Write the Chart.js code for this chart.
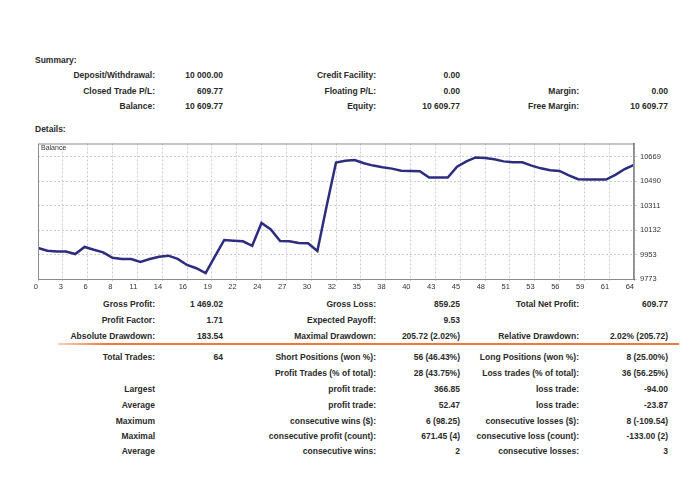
<!DOCTYPE html>
<html>
<head>
<meta charset="utf-8">
<script src="https://cdn.jsdelivr.net/npm/chart.js@4.4.1/dist/chart.umd.min.js"></script>
<style>
  body { margin: 0; background: #fff; width: 700px; height: 500px; position: relative; overflow: hidden;
         font-family: "Liberation Sans", Arial, sans-serif; color: #2a2a2a; }
  .t { position: absolute; font-size: 8.5px; font-weight: bold; white-space: nowrap; line-height: 12px; }
  #chartBox { position: absolute; left: 30px; top: 136px; width: 650px; height: 162px; }
  #balanceTag { position: absolute; left: 41px; top: 143px; font-size: 7px; line-height: 9px; color: #333; z-index: 2; }
  #rule { position: absolute; left: 58px; top: 343px; width: 621px; height: 2px;
          background: linear-gradient(to right, rgba(236,120,60,0.35), #ec7a3c 8%, #ec7a3c); }
</style>
</head>
<body>
<div class="t" style="left:35px;top:54px">Summary:</div>
<div class="t" style="left:35px;top:123px">Details:</div>
<div id="balanceTag">Balance</div>
<div id="chartBox"><canvas id="balanceChart"></canvas></div>
<div id="rule"></div>

<script>
// ==================== DATA ====================

// balance after each closed trade (trade 0 = initial deposit)
const balance = [
  10000, 9980, 9975, 9975, 9956, 10008, 9987, 9968, 9929, 9920,
  9920, 9898, 9920, 9936, 9944, 9920, 9876, 9852, 9816.46, 9939,
  10059, 10054, 10049, 10016, 10184, 10136, 10052, 10049, 10037, 10035,
  9978, 10310, 10626, 10640, 10645, 10621, 10604, 10592, 10582, 10567,
  10565, 10562, 10516, 10516, 10516, 10596, 10635, 10664, 10659, 10650,
  10635, 10628, 10628, 10604, 10584, 10570, 10565, 10533, 10504, 10502,
  10502, 10502, 10536, 10579, 10609.77
];
const tradeNumbers = balance.map((_, i) => i);

const xTickLabels = ['0', '3', '6', '8', '11', '14', '16', '19', '22', '24', '27', '30', '32',
                     '35', '38', '40', '43', '45', '48', '51', '53', '56', '59', '61', '64'];
const yTicks = [9773, 9953, 10132, 10311, 10490, 10669];
const yMin = 9773;
const yMax = 10766;
const xMax = 64;

// report tables: [label, value, label, value, label, value]
const summaryRows = [
  ['Deposit/Withdrawal:', '10 000.00', 'Credit Facility:', '0.00', '', ''],
  ['Closed Trade P/L:', '609.77', 'Floating P/L:', '0.00', 'Margin:', '0.00'],
  ['Balance:', '10 609.77', 'Equity:', '10 609.77', 'Free Margin:', '10 609.77']
];
const summaryY = [75, 91, 106];

const detailRows = [
  ['Gross Profit:', '1 469.02', 'Gross Loss:', '859.25', 'Total Net Profit:', '609.77'],
  ['Profit Factor:', '1.71', 'Expected Payoff:', '9.53', '', ''],
  ['Absolute Drawdown:', '183.54', 'Maximal Drawdown:', '205.72 (2.02%)', 'Relative Drawdown:', '2.02% (205.72)'],
  ['Total Trades:', '64', 'Short Positions (won %):', '56 (46.43%)', 'Long Positions (won %):', '8 (25.00%)'],
  ['', '', 'Profit Trades (% of total):', '28 (43.75%)', 'Loss trades (% of total):', '36 (56.25%)'],
  ['Largest', '', 'profit trade:', '366.85', 'loss trade:', '-94.00'],
  ['Average', '', 'profit trade:', '52.47', 'loss trade:', '-23.87'],
  ['Maximum', '', 'consecutive wins ($):', '6 (98.25)', 'consecutive losses ($):', '8 (-109.54)'],
  ['Maximal', '', 'consecutive profit (count):', '671.45 (4)', 'consecutive loss (count):', '-133.00 (2)'],
  ['Average', '', 'consecutive wins:', '2', 'consecutive losses:', '3']
];
const detailY = [304, 320, 336, 357, 373, 389, 405, 421, 436, 451];

// right edges of the six text columns
const colRight = [155, 223, 376, 460, 579, 668];

// ==================== TEXT TABLES ====================

function placeRow(cells, y) {
  cells.forEach((text, c) => {
    if (!text) return;
    const d = document.createElement('div');
    d.className = 't';
    d.textContent = text;
    d.style.right = (700 - colRight[c]) + 'px';
    d.style.top = (y - 6) + 'px';
    document.body.appendChild(d);
  });
}
summaryRows.forEach((row, i) => placeRow(row, summaryY[i]));
detailRows.forEach((row, i) => placeRow(row, detailY[i]));

// ==================== BALANCE CHART ====================

// thin frame round the plot area, like the tester report
const framePlugin = {
  id: 'frame',
  afterDatasetsDraw(chart) {
    const { ctx, chartArea: a } = chart;
    ctx.save();
    ctx.strokeStyle = '#8c8c8c';
    ctx.lineWidth = 1;
    ctx.strokeRect(a.left + 0.5, a.top + 0.5, a.right - a.left - 1, a.bottom - a.top);
    ctx.restore();
  }
};

const tickFont = { family: '"Liberation Sans", Arial, sans-serif', size: 7.5 };

new Chart(document.getElementById('balanceChart'), {
  type: 'line',
  data: {
    labels: tradeNumbers,
    datasets: [{
      label: 'Balance',
      data: balance,
      borderColor: '#2c2c80',
      borderWidth: 2.5,
      pointRadius: 0,
      tension: 0,
      fill: false
    }]
  },
  options: {
    responsive: true,
    maintainAspectRatio: false,
    animation: false,
    layout: { padding: { left: 8, top: 5, right: 0, bottom: 0 } },
    plugins: { legend: { display: false }, tooltip: { enabled: false } },
    scales: {
      x: {
        type: 'linear',
        min: 0,
        max: xMax,
        afterBuildTicks: (s) => { s.ticks = xTickLabels.map((_, i) => ({ value: i * xMax / (xTickLabels.length - 1) })); },
        afterFit: (s) => { s.height = 19; },
        grid: { color: '#cccccc', drawTicks: true, tickLength: 2 },
        border: { display: true, color: '#666', width: 1, dash: [2, 2] },
        ticks: {
          autoSkip: false, maxRotation: 0, padding: 1, align: 'end',
          color: '#333', font: tickFont,
          callback: (v, i) => xTickLabels[i]
        }
      },
      y: {
        position: 'right',
        min: yMin,
        max: yMax,
        afterBuildTicks: (s) => { s.ticks = yTicks.map(v => ({ value: v })); },
        afterFit: (s) => { s.width = 46; },
        grid: { color: '#cccccc', drawTicks: true, tickLength: 3 },
        border: { display: true, color: '#555', width: 1.5, dash: [2, 2] },
        ticks: {
          padding: 3, color: '#333', font: tickFont,
          callback: (v) => String(v)
        }
      }
    }
  },
  plugins: [framePlugin]
});
</script>
</body>
</html>
